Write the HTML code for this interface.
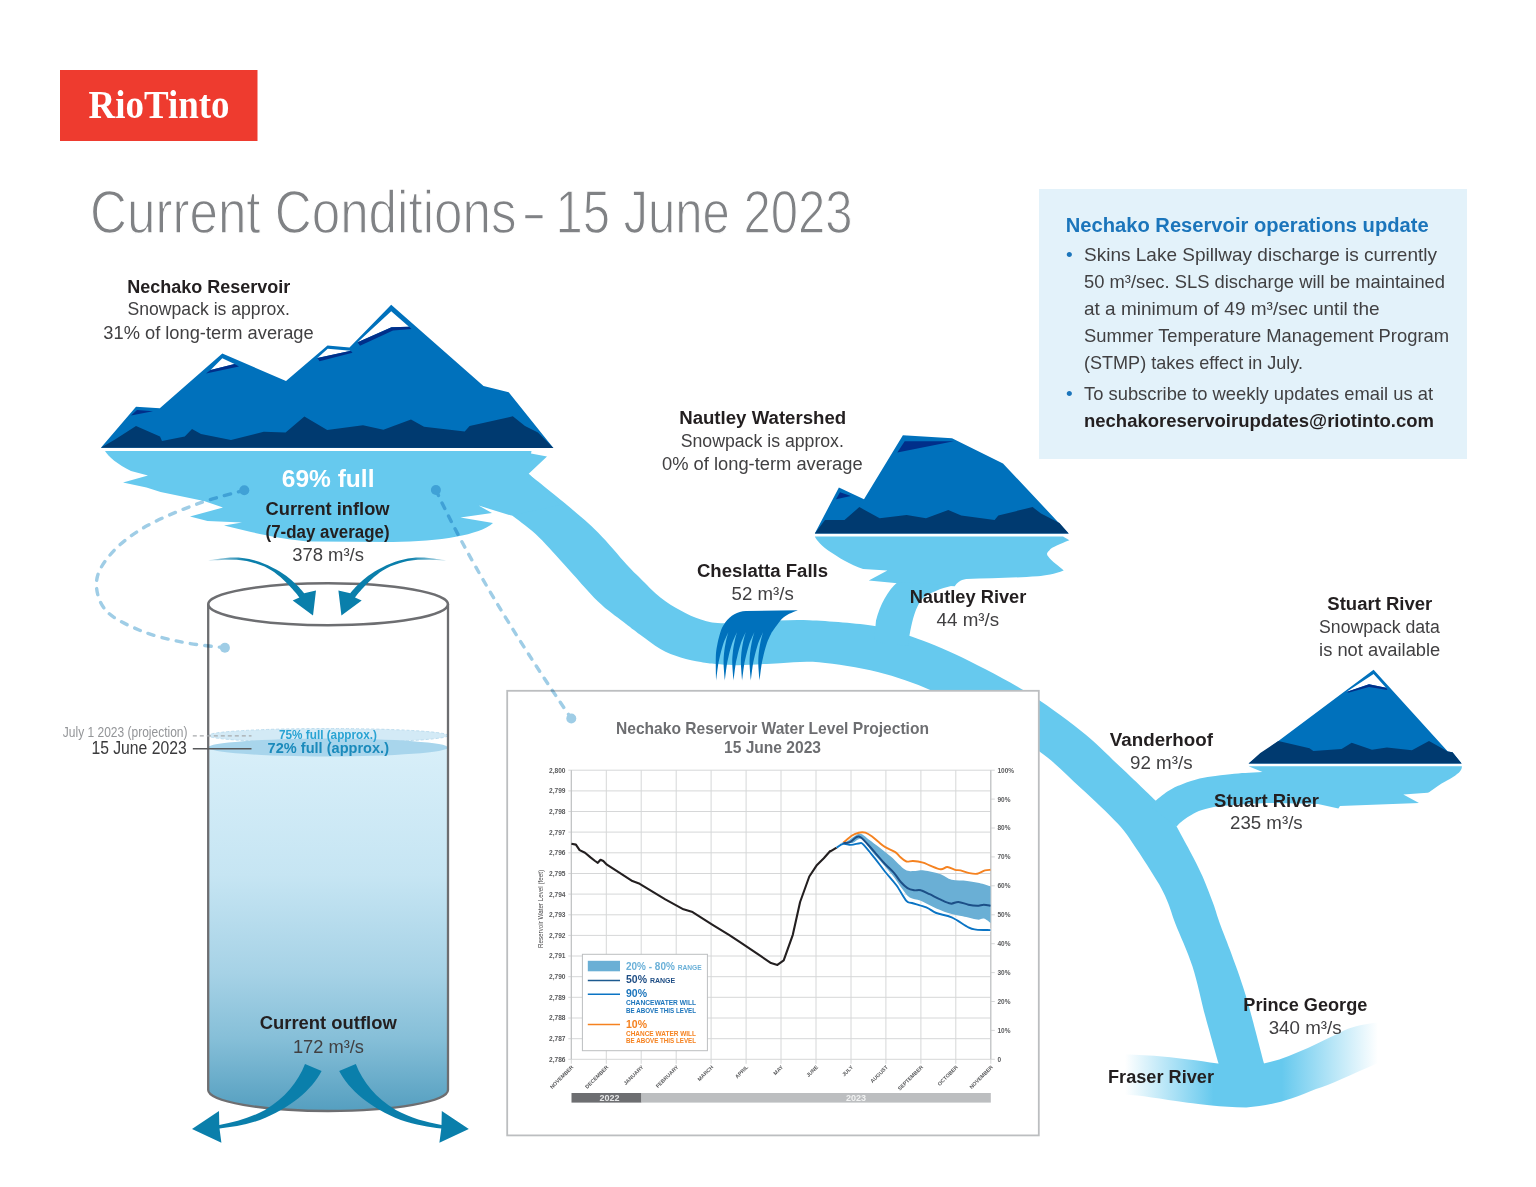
<!DOCTYPE html>
<html><head><meta charset="utf-8">
<style>
html,body{margin:0;padding:0;background:#fff;width:1536px;height:1187px;overflow:hidden}
svg{display:block;font-family:"Liberation Sans",sans-serif}
</style></head><body>
<svg width="1536" height="1187" viewBox="0 0 1536 1187">
<defs>
<linearGradient id="cylg" x1="0" y1="748" x2="0" y2="1111" gradientUnits="userSpaceOnUse">
<stop offset="0" stop-color="#d8eff9"/>
<stop offset="0.35" stop-color="#c6e5f3"/>
<stop offset="0.62" stop-color="#a6d2e6"/>
<stop offset="0.8" stop-color="#86bfd8"/>
<stop offset="1" stop-color="#559fc0"/>
</linearGradient>
<linearGradient id="fraserg" x1="1125" y1="0" x2="1378" y2="0" gradientUnits="userSpaceOnUse">
<stop offset="0" stop-color="#66c9ee" stop-opacity="0"/>
<stop offset="0.35" stop-color="#66c9ee"/>
<stop offset="0.62" stop-color="#66c9ee"/>
<stop offset="1" stop-color="#66c9ee" stop-opacity="0"/>
</linearGradient>
<linearGradient id="fallg" x1="0" y1="660" x2="0" y2="682" gradientUnits="userSpaceOnUse">
<stop offset="0" stop-color="#0071bc"/>
<stop offset="0.82" stop-color="#0071bc"/>
<stop offset="1" stop-color="#0071bc" stop-opacity="0.2"/>
</linearGradient>
</defs>
<rect x="60" y="70" width="197.5" height="71" fill="#ee3b2f"/>
<text x="88.5" y="117.8" font-family="Liberation Serif" font-weight="bold" font-size="40" fill="#fff" textLength="141" lengthAdjust="spacingAndGlyphs">RioTinto</text>
<g font-size="61" fill="#808285" stroke="#fff" stroke-width="1.3"><text x="90" y="232.5" textLength="426.5" lengthAdjust="spacingAndGlyphs">Current Conditions</text><text x="555.5" y="232.5" textLength="297" lengthAdjust="spacingAndGlyphs">15 June 2023</text></g><rect x="525.3" y="215.2" width="17.2" height="3" fill="#808285"/>
<rect x="1039" y="189" width="428" height="270" fill="#e3f2fa"/>
<text x="1065.7" y="232" font-size="20" font-weight="bold" fill="#1b75bb" textLength="363" lengthAdjust="spacingAndGlyphs">Nechako Reservoir operations update</text>
<g font-size="19" fill="#414042">
<text x="1066" y="260.6" fill="#1b75bb">•</text>
<text x="1084" y="260.6" textLength="353" lengthAdjust="spacingAndGlyphs">Skins Lake Spillway discharge is currently</text>
<text x="1084" y="287.5" textLength="361" lengthAdjust="spacingAndGlyphs">50 m³/sec. SLS discharge will be maintained</text>
<text x="1084" y="314.8" textLength="295.5" lengthAdjust="spacingAndGlyphs">at a minimum of 49 m³/sec until the</text>
<text x="1084" y="341.7" textLength="365" lengthAdjust="spacingAndGlyphs">Summer Temperature Management Program</text>
<text x="1084" y="369" textLength="219" lengthAdjust="spacingAndGlyphs">(STMP) takes effect in July.</text>
<text x="1066" y="399.7" fill="#1b75bb">•</text>
<text x="1084" y="399.7" textLength="349" lengthAdjust="spacingAndGlyphs">To subscribe to weekly updates email us at</text>
<text x="1084" y="426.7" font-weight="bold" fill="#231f20" textLength="350" lengthAdjust="spacingAndGlyphs">nechakoreservoirupdates@riotinto.com</text>
</g>
<path d="M528.9,474.3 C535.4,479.5 556.1,495.8 567.6,505.5 C579.1,515.2 588.2,522.7 598.0,532.5 C607.8,542.3 619.6,556.9 626.6,564.5 C633.6,572.1 634.6,572.7 640.2,578.2 C645.8,583.7 653.6,592.0 660.4,597.4 C667.1,602.8 674.0,606.8 680.7,610.5 C687.5,614.2 694.2,617.5 700.9,619.6 C707.6,621.7 711.2,622.9 721.1,623.2 C731.0,623.5 745.4,622.0 760.0,621.5 C774.6,621.0 789.9,619.5 809.0,620.3 C828.1,621.0 858.4,623.5 874.7,626.0 C891.0,628.5 893.5,630.2 907.0,635.0 C920.5,639.8 936.3,645.2 955.8,654.5 C975.3,663.8 1003.2,677.9 1024.0,690.6 C1044.8,703.3 1064.3,717.7 1080.5,730.5 C1096.7,743.3 1108.4,755.8 1121.0,767.6 C1133.6,779.4 1150.4,795.7 1156.3,801.3 L1176.6,826.6 C1178.8,830.6 1185.3,842.4 1189.7,850.7 C1194.1,859.1 1198.8,867.9 1202.7,876.7 C1206.6,885.6 1210.4,895.9 1213.3,903.8 C1216.2,911.7 1217.2,916.2 1220.0,923.9 C1222.8,931.6 1225.7,938.1 1230.0,950.0 C1234.3,961.9 1239.9,976.0 1245.6,995.0 C1251.3,1014.0 1261.1,1052.5 1264.2,1064.0 L1218.7,1064 C1216.5,1056.2 1209.9,1033.3 1205.5,1017.0 C1201.1,1000.7 1197.5,981.9 1192.5,966.4 C1187.5,950.9 1179.5,934.3 1175.5,923.9 C1171.5,913.5 1170.8,909.7 1168.4,903.8 C1166.1,897.9 1164.4,894.0 1161.4,888.5 C1158.5,883.0 1155.0,877.7 1150.7,870.8 C1146.4,863.9 1140.9,855.1 1135.4,847.2 C1129.9,839.3 1126.9,833.5 1117.7,823.6 C1108.5,813.7 1093.7,799.9 1080.5,787.8 C1067.3,775.7 1055.2,762.4 1038.4,750.8 C1021.7,739.2 997.8,728.0 980.0,718.0 C962.2,708.0 948.4,698.3 931.4,690.6 C914.4,682.9 896.4,676.7 877.7,672.0 C859.0,667.3 835.3,663.8 819.0,662.3 C802.7,660.8 793.5,662.7 780.0,663.2 C766.5,663.7 748.6,665.1 737.9,665.2 C727.2,665.4 722.2,664.6 716.0,664.1 C709.8,663.6 706.8,663.2 700.9,662.1 C695.0,661.0 687.5,659.8 680.7,657.6 C674.0,655.4 667.1,652.8 660.4,649.0 C653.6,645.2 646.4,639.3 640.2,634.8 C634.0,630.3 630.2,627.3 623.2,621.8 C616.2,616.2 607.8,611.0 598.0,601.5 C588.2,592.0 574.6,575.7 564.2,564.5 C553.8,553.3 544.3,542.2 535.6,534.1 C526.9,526.0 515.9,518.7 512.0,515.6 Z" fill="#66c9ee"/>
<path d="M105.0,451.0 L531.5,451.0 L531.0,453.5 L547.0,456.4 L528.7,473.7 L560.0,505.0 L511.4,515.6 L478.6,505.6 L492.0,513.0 L460.4,517.5 L493.0,523.0 C480,535 440,541.5 393,542 L313.75,541.6 C290,540.5 265,535 251,532 L224,525.5 L242,522.5 L207.5,521 L190,516.6 L223,507.5 L204,501 L160.6,492 L146.5,487.5 L123,482.5 L148,475.6 L131,471 C118,465 108,456 105,451 Z" fill="#66c9ee"/>
<path d="M814.8,536.4 L1063,536.4 L1069.4,540.3 C1060,544 1052,547 1049.3,550.4 C1046,553 1047,555 1047.9,556.1 C1052,562 1060,567 1063.7,570.4 C1055,574 1045,575.5 1037.9,576.2 C1010,578 990,578.5 966.2,579 C960,580 957,583 954.8,586.2 L897.5,583.3 L868.8,580.5 L887.4,570.4 L863.1,569 C850,565 838,557 830.1,551.8 C822,546 817,541 814.8,536.4 Z" fill="#66c9ee"/>
<path d="M897.5,582.3 C888,590 880,605 876,620.6 L874,642 L908,646 C912,615 918,603 923.3,597.7 C935,590 945,587 954.8,585.2 Z" fill="#66c9ee"/>
<path d="M1248.6,766.3 L1461.9,766.3 C1462,771 1458,775 1441.6,783.4 C1433,789 1430,792 1427.5,792.8 L1403.3,794.4 L1419,803 L1340,806 L1338.4,808.4 L1318,804 C1290,803.5 1270,803 1265.8,803 C1245,804 1230,805 1218.7,806.3 C1205,808.5 1197,811 1191.7,814.8 C1186,818 1180,822 1176.6,826.6 L1150,806 C1165,792 1172,788 1181.6,784.5 C1195,779 1205,777 1215.3,776 C1230,774 1240,773 1249,772.7 L1262.5,772 Z" fill="#66c9ee"/>
<path d="M1125,1054.5 C1150,1055 1175,1057 1218,1063.6 L1263.8,1063.6 C1290,1058 1320,1042 1344,1030.4 C1355,1026 1365,1024 1378,1022.5 L1378,1063 C1350,1075 1330,1085 1316,1089 C1290,1100 1270,1106 1246.25,1107.5 C1220,1107 1200,1104 1187.7,1102.7 C1160,1099 1140,1095 1125,1094.8 Z" fill="url(#fraserg)"/>
<path d="M100.9,447.8 L136,406.7 L159.8,408.3 L222.3,353.6 L286,381 L327.5,345.4 L349.5,347.4 L391.2,304.8 L483.5,386.1 L508.7,392.3 L553.4,448 Z" fill="#0071bc"/>
<path d="M100.9,447.8 L115,439.5 L136,426 L160,436.4 L162,441 L184.8,436.4 L192,429 L201,434 L231,440 L263.75,431.7 L285.6,432.5 L304.4,416.6 L327.2,430 L363,425.2 L383.4,429.8 L411,419.5 L424,426.8 L464.7,431.4 L469.6,426 L512.8,416.3 L525,426 L538,432.5 L553.4,448 Z" fill="#003a70"/>
<path d="M391.2,311.3 L409,326.7 L391.5,327.2 L357.6,342.2 Z" fill="#fff"/>
<path d="M357.6,342.2 L391.5,327.2 L409,326.7 L411.5,329 L393,330.5 L360,345.8 Z" fill="#002f8a"/>
<path d="M327.7,348.7 L350.8,350.8 L317.4,358 Z" fill="#fff"/>
<path d="M317.4,358 L350.8,350.8 L352.5,352.8 L319.5,361.3 Z" fill="#002f8a"/>
<path d="M222.3,358.3 L234.5,364 L210.6,370 Z" fill="#fff"/>
<path d="M206,373.5 L210.6,370 L234.5,364 L239,366.5 Z" fill="#002f8a"/>
<path d="M131,415.5 L137,410 L153,411.3 Z" fill="#002f8a"/>
<path d="M814.8,533.4 L838.9,487.6 L864,499.3 L902.9,435.2 L952,438.2 L1003,463.5 L1068.7,533.4 Z" fill="#0071bc"/>
<path d="M814.8,533.4 L825,520 L844.5,520 L859.3,507.1 L879.7,518.2 L906.6,514.9 L926,518.2 L948.3,509.9 L961.2,515.4 L994.6,520 L998.3,515.4 L1032.6,507.1 L1041,513.6 L1059.5,522.9 L1068.7,533.4 Z" fill="#003a70"/>
<path d="M897.3,452.4 L904.7,441.3 L953.8,441.3 Z" fill="#002f8a"/>
<path d="M836,499.3 L840,492.3 L851,496 Z" fill="#002f8a"/>
<path d="M1248.6,763.4 L1373.6,669.7 L1447.8,751.4 L1452.5,752.2 L1461.6,763.4 Z" fill="#0071bc"/>
<path d="M1248.6,763.4 L1260.3,753 L1278.3,741 L1309.5,748.3 L1313.4,751 L1341.6,749 L1351.7,742.8 L1372,749.8 L1386.9,747.5 L1411.9,750.3 L1429,741 L1447.8,751.4 L1452.5,752.2 L1461.6,763.4 Z" fill="#003a70"/>
<path d="M1373.6,674 L1386,687.8 L1369,684.2 L1346.25,692 Z" fill="#fff"/>
<path d="M1346.25,692 L1369,684.2 L1386,687.8 L1387.5,690 L1369,687 L1349,692.5 Z" fill="#002f8a"/>
<path d="M725,622.7 C731,615 737,611.5 746,611 L797.8,610.2 C795.4,611.4 787.7,613.7 783.4,617.4 C779.1,621.1 773.7,629.8 771.8,632.3 C771.0,634.2 768.2,639.4 766.8,643.6 C765.3,647.8 764.0,653.5 763.1,657.3 C762.2,661.1 761.9,662.5 761.3,666.4 C760.7,670.3 759.8,678.4 759.5,680.8 C759.3,678.0 758.4,668.8 758.3,664.1 C758.2,659.4 758.4,656.5 758.8,652.7 C759.2,648.9 759.9,644.8 760.6,641.4 C761.3,638.0 762.7,633.8 763.1,632.3 C762.3,634.2 759.6,639.4 758.1,643.6 C756.7,647.8 755.3,653.5 754.4,657.3 C753.5,661.1 753.2,662.5 752.6,666.4 C752.0,670.3 751.1,678.4 750.8,680.8 C750.6,678.0 749.7,668.8 749.6,664.1 C749.5,659.4 749.7,656.5 750.1,652.7 C750.5,648.9 751.2,644.8 751.9,641.4 C752.6,638.0 754.0,633.8 754.4,632.3 C753.6,634.2 750.9,639.4 749.4,643.6 C748.0,647.8 746.7,653.5 745.7,657.3 C744.8,661.1 744.5,662.5 743.9,666.4 C743.3,670.3 742.4,678.4 742.1,680.8 C741.9,678.0 741.1,668.8 740.9,664.1 C740.8,659.4 741.1,656.5 741.4,652.7 C741.8,648.9 742.5,644.8 743.2,641.4 C744.0,638.0 745.3,633.8 745.7,632.3 C744.9,634.2 742.2,639.4 740.8,643.6 C739.3,647.8 738.0,653.5 737.1,657.3 C736.1,661.1 735.9,662.5 735.3,666.4 C734.7,670.3 733.8,678.4 733.5,680.8 C733.3,678.0 732.4,668.8 732.3,664.1 C732.1,659.4 732.4,656.5 732.8,652.7 C733.1,648.9 733.8,644.8 734.6,641.4 C735.3,638.0 736.6,633.8 737.1,632.3 C736.2,634.2 733.5,639.4 732.1,643.6 C730.6,647.8 729.3,653.5 728.4,657.3 C727.5,661.1 727.2,662.5 726.6,666.4 C726.0,670.3 725.1,678.4 724.8,680.8 C724.6,678.0 723.7,668.8 723.6,664.1 C723.5,659.4 723.7,656.5 724.1,652.7 C724.5,648.9 725.2,644.8 725.9,641.4 C726.6,638.0 728.0,633.8 728.4,632.3 C727.6,634.2 724.8,639.4 723.4,643.6 C722.0,647.8 720.6,653.5 719.7,657.3 C718.8,661.1 718.5,662.5 717.9,666.4 C717.3,670.3 716.4,678.4 716.1,680.8 C716.0,676.9 715.6,663.5 715.8,657.3 C716.0,651.1 716.6,648.1 717.5,643.6 C718.4,639.1 719.9,633.5 721.1,630.0 C722.4,626.5 724.4,623.9 725.0,622.7 Z" fill="url(#fallg)"/>
<path d="M208.2,748 L448,748 L448,1090 A119.9,21 0 0 1 208.2,1090 Z" fill="url(#cylg)"/>
<ellipse cx="328.1" cy="735.5" rx="119.9" ry="7" fill="#d3eaf6" stroke="#bcdcee" stroke-width="1" stroke-dasharray="3,2"/>
<ellipse cx="328.1" cy="747.5" rx="119.9" ry="9" fill="#a8d5ec"/>
<path d="M208.2,604.25 L208.2,1090 A119.9,21 0 0 0 448,1090 L448,604.25" fill="none" stroke="#6d6e71" stroke-width="2.3"/>
<ellipse cx="328.1" cy="604.25" rx="119.9" ry="21" fill="none" stroke="#6d6e71" stroke-width="2.5"/>
<line x1="192.8" y1="735.9" x2="251.5" y2="735.9" stroke="#a7a9ac" stroke-width="1.3" stroke-dasharray="4,3"/>
<line x1="192.8" y1="748.7" x2="251.5" y2="748.7" stroke="#58595b" stroke-width="1.6"/>
<linearGradient id="arrg" x1="206" y1="0" x2="245" y2="0" gradientUnits="userSpaceOnUse"><stop offset="0" stop-color="#0a7fab" stop-opacity="0.15"/><stop offset="1" stop-color="#0a7fab"/></linearGradient>
<path d="M206.8,560.6 C209.9,560.2 219.5,558.4 225.4,558.0 C231.3,557.6 236.7,557.4 242.3,558.0 C247.9,558.6 253.5,559.9 259.2,561.8 C264.8,563.7 271.2,566.8 276.2,569.5 C281.1,572.2 285.4,575.2 288.9,577.9 C292.4,580.6 294.8,583.0 297.3,585.5 C299.8,588.0 303.0,591.9 304.1,593.2 L316,590.6 L313,615.6 L292.7,600.4 L299.4,597.4 C298.1,595.8 294.6,591.4 291.4,588.0 C288.2,584.6 284.3,580.3 280.4,577.0 C276.4,573.7 272.6,570.7 267.7,568.2 C262.8,565.7 256.4,563.4 250.8,562.0 C245.2,560.6 241.2,560.0 233.9,559.8 C226.6,559.6 211.3,560.5 206.8,560.6 Z" fill="url(#arrg)"/>
<g transform="translate(654.4,0) scale(-1,1)"><path d="M206.8,560.6 C209.9,560.2 219.5,558.4 225.4,558.0 C231.3,557.6 236.7,557.4 242.3,558.0 C247.9,558.6 253.5,559.9 259.2,561.8 C264.8,563.7 271.2,566.8 276.2,569.5 C281.1,572.2 285.4,575.2 288.9,577.9 C292.4,580.6 294.8,583.0 297.3,585.5 C299.8,588.0 303.0,591.9 304.1,593.2 L316,590.6 L313,615.6 L292.7,600.4 L299.4,597.4 C298.1,595.8 294.6,591.4 291.4,588.0 C288.2,584.6 284.3,580.3 280.4,577.0 C276.4,573.7 272.6,570.7 267.7,568.2 C262.8,565.7 256.4,563.4 250.8,562.0 C245.2,560.6 241.2,560.0 233.9,559.8 C226.6,559.6 211.3,560.5 206.8,560.6 Z" fill="url(#arrg)"/></g>
<path d="M305,1064 L321.6,1071 C312,1090 290,1108 260,1120 C245,1125 232,1127 219.5,1128.5 L221.4,1142.7 L192,1129 L219,1111 L219.3,1125 C235,1122 250,1118 265,1110 C285,1098 298,1082 305,1064 Z" fill="#0a7fab"/>
<g transform="translate(660.8,0) scale(-1,1)"><path d="M305,1064 L321.6,1071 C312,1090 290,1108 260,1120 C245,1125 232,1127 219.5,1128.5 L221.4,1142.7 L192,1129 L219,1111 L219.3,1125 C235,1122 250,1118 265,1110 C285,1098 298,1082 305,1064 Z" fill="#0a7fab"/></g>
<rect x="507.2" y="690.8" width="531.6" height="444.6" fill="#fff" stroke="#bcbec0" stroke-width="1.8"/>
<g stroke="#d6d7d8" stroke-width="1"><line x1="568.3" y1="770.2" x2="990.8" y2="770.2"/><line x1="568.3" y1="790.9" x2="990.8" y2="790.9"/><line x1="568.3" y1="811.5" x2="990.8" y2="811.5"/><line x1="568.3" y1="832.1" x2="990.8" y2="832.1"/><line x1="568.3" y1="852.8" x2="990.8" y2="852.8"/><line x1="568.3" y1="873.5" x2="990.8" y2="873.5"/><line x1="568.3" y1="894.1" x2="990.8" y2="894.1"/><line x1="568.3" y1="914.8" x2="990.8" y2="914.8"/><line x1="568.3" y1="935.4" x2="990.8" y2="935.4"/><line x1="568.3" y1="956.0" x2="990.8" y2="956.0"/><line x1="568.3" y1="976.7" x2="990.8" y2="976.7"/><line x1="568.3" y1="997.3" x2="990.8" y2="997.3"/><line x1="568.3" y1="1018.0" x2="990.8" y2="1018.0"/><line x1="568.3" y1="1038.7" x2="990.8" y2="1038.7"/><line x1="568.3" y1="1059.3" x2="990.8" y2="1059.3"/><line x1="571.3" y1="770.2" x2="571.3" y2="1063.8"/><line x1="606.3" y1="770.2" x2="606.3" y2="1063.8"/><line x1="641.2" y1="770.2" x2="641.2" y2="1063.8"/><line x1="676.2" y1="770.2" x2="676.2" y2="1063.8"/><line x1="711.1" y1="770.2" x2="711.1" y2="1063.8"/><line x1="746.1" y1="770.2" x2="746.1" y2="1063.8"/><line x1="781.0" y1="770.2" x2="781.0" y2="1063.8"/><line x1="816.0" y1="770.2" x2="816.0" y2="1063.8"/><line x1="851.0" y1="770.2" x2="851.0" y2="1063.8"/><line x1="885.9" y1="770.2" x2="885.9" y2="1063.8"/><line x1="920.9" y1="770.2" x2="920.9" y2="1063.8"/><line x1="955.8" y1="770.2" x2="955.8" y2="1063.8"/><line x1="990.8" y1="770.2" x2="990.8" y2="1063.8"/><line x1="990.8" y1="770.2" x2="994.8" y2="770.2"/><line x1="990.8" y1="799.1" x2="994.8" y2="799.1"/><line x1="990.8" y1="828.0" x2="994.8" y2="828.0"/><line x1="990.8" y1="856.9" x2="994.8" y2="856.9"/><line x1="990.8" y1="885.8" x2="994.8" y2="885.8"/><line x1="990.8" y1="914.8" x2="994.8" y2="914.8"/><line x1="990.8" y1="943.7" x2="994.8" y2="943.7"/><line x1="990.8" y1="972.6" x2="994.8" y2="972.6"/><line x1="990.8" y1="1001.5" x2="994.8" y2="1001.5"/><line x1="990.8" y1="1030.4" x2="994.8" y2="1030.4"/><line x1="990.8" y1="1059.3" x2="994.8" y2="1059.3"/></g>
<line x1="571.3" y1="770.2" x2="571.3" y2="1059.3" stroke="#bcbec0" stroke-width="1"/>
<line x1="990.8" y1="770.2" x2="990.8" y2="1059.3" stroke="#bcbec0" stroke-width="1"/>
<g font-size="7" fill="#58595b" font-weight="bold"><text x="565.5" y="772.6" text-anchor="end" textLength="16.5" lengthAdjust="spacingAndGlyphs">2,800</text><text x="565.5" y="793.2" text-anchor="end" textLength="16.5" lengthAdjust="spacingAndGlyphs">2,799</text><text x="565.5" y="813.9" text-anchor="end" textLength="16.5" lengthAdjust="spacingAndGlyphs">2,798</text><text x="565.5" y="834.5" text-anchor="end" textLength="16.5" lengthAdjust="spacingAndGlyphs">2,797</text><text x="565.5" y="855.2" text-anchor="end" textLength="16.5" lengthAdjust="spacingAndGlyphs">2,796</text><text x="565.5" y="875.9" text-anchor="end" textLength="16.5" lengthAdjust="spacingAndGlyphs">2,795</text><text x="565.5" y="896.5" text-anchor="end" textLength="16.5" lengthAdjust="spacingAndGlyphs">2,794</text><text x="565.5" y="917.1" text-anchor="end" textLength="16.5" lengthAdjust="spacingAndGlyphs">2,793</text><text x="565.5" y="937.8" text-anchor="end" textLength="16.5" lengthAdjust="spacingAndGlyphs">2,792</text><text x="565.5" y="958.4" text-anchor="end" textLength="16.5" lengthAdjust="spacingAndGlyphs">2,791</text><text x="565.5" y="979.1" text-anchor="end" textLength="16.5" lengthAdjust="spacingAndGlyphs">2,790</text><text x="565.5" y="999.7" text-anchor="end" textLength="16.5" lengthAdjust="spacingAndGlyphs">2,789</text><text x="565.5" y="1020.4" text-anchor="end" textLength="16.5" lengthAdjust="spacingAndGlyphs">2,788</text><text x="565.5" y="1041.1" text-anchor="end" textLength="16.5" lengthAdjust="spacingAndGlyphs">2,787</text><text x="565.5" y="1061.7" text-anchor="end" textLength="16.5" lengthAdjust="spacingAndGlyphs">2,786</text></g>
<g font-size="6.5" fill="#58595b" font-weight="bold"><text x="997.5" y="772.6">100%</text><text x="997.5" y="801.5">90%</text><text x="997.5" y="830.4">80%</text><text x="997.5" y="859.3">70%</text><text x="997.5" y="888.2">60%</text><text x="997.5" y="917.1">50%</text><text x="997.5" y="946.1">40%</text><text x="997.5" y="975.0">30%</text><text x="997.5" y="1003.9">20%</text><text x="997.5" y="1032.8">10%</text><text x="997.5" y="1061.7">0</text></g>
<text transform="translate(542.5,909) rotate(-90)" text-anchor="middle" font-size="7" fill="#414042" textLength="78" lengthAdjust="spacingAndGlyphs">Reservoir Water Level (feet)</text>
<g font-size="5.3" fill="#58595b" font-weight="bold"><text transform="translate(573.8,1067.5) rotate(-45)" text-anchor="end">NOVEMBER</text><text transform="translate(608.8,1067.5) rotate(-45)" text-anchor="end">DECEMBER</text><text transform="translate(643.7,1067.5) rotate(-45)" text-anchor="end">JANUARY</text><text transform="translate(678.7,1067.5) rotate(-45)" text-anchor="end">FEBRUARY</text><text transform="translate(713.6,1067.5) rotate(-45)" text-anchor="end">MARCH</text><text transform="translate(748.6,1067.5) rotate(-45)" text-anchor="end">APRIL</text><text transform="translate(783.5,1067.5) rotate(-45)" text-anchor="end">MAY</text><text transform="translate(818.5,1067.5) rotate(-45)" text-anchor="end">JUNE</text><text transform="translate(853.5,1067.5) rotate(-45)" text-anchor="end">JULY</text><text transform="translate(888.4,1067.5) rotate(-45)" text-anchor="end">AUGUST</text><text transform="translate(923.4,1067.5) rotate(-45)" text-anchor="end">SEPTEMBER</text><text transform="translate(958.3,1067.5) rotate(-45)" text-anchor="end">OCTOBER</text><text transform="translate(993.3,1067.5) rotate(-45)" text-anchor="end">NOVEMBER</text></g>
<rect x="571.5" y="1093" width="70" height="9.6" fill="#6d6e71"/>
<rect x="641.5" y="1093" width="349.3" height="9.6" fill="#bcbec0"/>
<text x="609.5" y="1101.3" text-anchor="middle" font-size="9" font-weight="bold" fill="#e6e7e8">2022</text>
<text x="856" y="1101.3" text-anchor="middle" font-size="9" font-weight="bold" fill="#f1f2f2">2023</text>
<text x="772.5" y="733.9" text-anchor="middle" font-size="17" font-weight="bold" fill="#6d6e71" textLength="313" lengthAdjust="spacingAndGlyphs">Nechako Reservoir Water Level Projection</text>
<text x="772.5" y="753.3" text-anchor="middle" font-size="17" font-weight="bold" fill="#6d6e71" textLength="97" lengthAdjust="spacingAndGlyphs">15 June 2023</text>
<path d="M845.0,843.0 C846.0,842.3 848.5,840.3 851.0,838.8 C853.5,837.3 856.9,833.7 859.9,833.8 C862.9,833.9 865.4,837.1 868.7,839.4 C872.0,841.7 875.9,844.7 879.8,847.7 C883.7,850.7 887.8,853.9 892.0,857.6 C896.2,861.3 901.4,867.6 905.3,869.8 C909.2,872.0 912.1,870.8 915.2,870.9 C918.3,871.0 919.9,869.8 924.1,870.4 C928.4,871.0 936.1,872.6 940.7,874.2 C945.3,875.8 947.3,878.7 951.7,879.8 C956.1,880.9 962.6,880.3 967.2,880.9 C971.8,881.5 975.5,882.2 979.4,883.1 C983.3,884.0 988.6,885.9 990.5,886.4 L990.5,922.9 C989.4,922.2 986.0,919.0 983.8,918.5 C981.6,918.0 980.7,920.0 977.2,919.6 C973.7,919.2 967.0,917.2 962.8,916.3 C958.5,915.4 956.1,915.4 951.7,914.1 C947.3,912.8 941.4,910.7 936.3,908.5 C931.1,906.3 925.2,902.6 920.8,900.8 C916.4,899.0 912.9,899.5 909.7,897.5 C906.6,895.5 904.5,891.9 901.9,888.6 C899.3,885.3 897.3,881.7 894.2,877.6 C891.1,873.5 886.8,868.5 883.1,864.3 C879.4,860.0 875.6,856.4 872.1,852.1 C868.6,847.9 865.4,840.3 862.1,838.8 C858.8,837.3 855.0,842.5 852.1,843.2 C849.2,843.9 846.2,843.0 845.0,843.0 Z" fill="#6aafd5"/>
<path d="M571.4,843.7 L575.9,844.6 L579.6,850.1 L585.0,852.8 L590.5,857.4 L595.1,861.0 L597.8,862.8 L600.5,859.7 L603.3,861.0 L606.9,864.7 L619.7,872.9 L632.4,881.1 L639.7,883.8 L665.3,899.3 L683.5,909.3 L692.6,912.1 L712.6,924.8 L729.0,934.8 L740.0,942.1 L756.4,953.1 L771.0,963.1 L777.4,964.9 L783.7,960.4 L792.8,934.8 L800.1,902.0 L809.3,876.5 L816.5,865.6 L823.8,858.3 L830.2,851.0 L830.0,851.7 L836.6,847.7 L843.3,843.2" fill="none" stroke="#231f20" stroke-width="2.1" stroke-linejoin="round"/>
<path d="M843.3,842.7 C844.8,841.5 849.5,837.2 852.1,835.5 C854.7,833.8 856.6,833.2 858.8,832.7 C861.0,832.2 863.2,832.1 865.4,832.7 C867.6,833.4 869.9,835.0 872.1,836.6 C874.3,838.2 876.5,840.4 878.7,842.1 C880.9,843.9 882.5,845.4 885.3,847.1 C888.1,848.8 892.9,850.5 895.3,852.1 C897.7,853.7 897.9,854.9 899.7,856.5 C901.6,858.1 904.2,860.8 906.4,861.5 C908.6,862.2 910.2,860.8 913.0,861.0 C915.8,861.2 920.2,861.9 923.0,862.6 C925.8,863.3 926.6,864.3 929.6,865.4 C932.6,866.5 937.8,869.0 940.7,869.3 C943.7,869.6 944.9,866.9 947.3,867.0 C949.7,867.1 952.9,869.2 955.1,869.8 C957.3,870.4 958.2,869.8 960.6,870.4 C963.0,871.0 966.7,872.5 969.5,873.1 C972.3,873.7 974.6,874.2 977.2,873.7 C979.8,873.2 982.8,871.0 985.0,870.4 C987.2,869.8 989.6,869.9 990.5,869.8" fill="none" stroke="#f58220" stroke-width="1.9" stroke-linejoin="round"/>
<path d="M836.6,847.7 C837.7,847.1 840.9,844.3 843.3,843.8 C845.7,843.3 848.2,845.0 851.0,844.9 C853.8,844.8 857.9,843.3 859.9,843.2 C861.9,843.1 860.8,841.9 863.2,844.3 C865.6,846.7 870.6,853.0 874.3,857.6 C878.0,862.2 881.6,867.4 885.3,872.0 C889.0,876.6 892.9,880.5 896.4,885.3 C899.9,890.1 903.8,897.8 906.4,900.8 C909.0,903.8 908.6,901.9 911.9,903.0 C915.2,904.1 922.2,905.7 926.3,907.4 C930.4,909.1 932.1,911.3 936.3,913.0 C940.5,914.7 946.4,915.0 951.7,917.4 C957.1,919.8 964.3,925.4 968.4,927.4 C972.5,929.4 972.4,929.1 976.1,929.6 C979.8,930.1 988.1,930.0 990.5,930.1" fill="none" stroke="#fff" stroke-width="3.4" stroke-linejoin="round"/>
<path d="M836.6,847.7 C837.7,847.1 840.9,844.3 843.3,843.8 C845.7,843.3 848.2,845.0 851.0,844.9 C853.8,844.8 857.9,843.3 859.9,843.2 C861.9,843.1 860.8,841.9 863.2,844.3 C865.6,846.7 870.6,853.0 874.3,857.6 C878.0,862.2 881.6,867.4 885.3,872.0 C889.0,876.6 892.9,880.5 896.4,885.3 C899.9,890.1 903.8,897.8 906.4,900.8 C909.0,903.8 908.6,901.9 911.9,903.0 C915.2,904.1 922.2,905.7 926.3,907.4 C930.4,909.1 932.1,911.3 936.3,913.0 C940.5,914.7 946.4,915.0 951.7,917.4 C957.1,919.8 964.3,925.4 968.4,927.4 C972.5,929.4 972.4,929.1 976.1,929.6 C979.8,930.1 988.1,930.0 990.5,930.1" fill="none" stroke="#0b74c4" stroke-width="1.9" stroke-linejoin="round"/>
<path d="M843.3,843.2 C844.4,843.0 847.3,843.2 849.9,842.1 C852.5,841.0 855.8,836.2 858.8,836.6 C861.8,837.0 864.6,841.3 867.6,844.3 C870.6,847.2 873.5,851.0 876.5,854.3 C879.5,857.6 882.3,861.2 885.3,864.3 C888.2,867.4 891.6,870.1 894.2,873.1 C896.8,876.1 898.6,879.5 900.8,882.0 C903.0,884.5 905.3,886.7 907.5,888.1 C909.7,889.5 911.9,889.9 914.1,890.3 C916.3,890.7 918.2,889.6 920.8,890.3 C923.4,890.9 926.3,892.6 929.6,894.2 C932.9,895.8 937.2,898.1 940.7,899.7 C944.2,901.3 947.7,903.2 950.6,903.6 C953.5,904.0 955.4,901.7 958.4,901.9 C961.4,902.1 965.3,904.1 968.4,904.7 C971.5,905.4 974.6,905.8 977.2,905.8 C979.8,905.8 981.6,904.7 983.8,904.7 C986.0,904.7 989.4,905.6 990.5,905.8" fill="none" stroke="#1c4f87" stroke-width="2" stroke-linejoin="round"/>
<rect x="582.4" y="954.3" width="125" height="96.4" fill="#fff" stroke="#bcbec0" stroke-width="1"/>
<rect x="587.8" y="960.8" width="32.2" height="10.5" fill="#6aafd5"/>
<line x1="587.8" y1="980.4" x2="620" y2="980.4" stroke="#1c5a8f" stroke-width="1.5"/>
<line x1="587.8" y1="994.2" x2="620" y2="994.2" stroke="#0b74c4" stroke-width="1.5"/>
<line x1="587.8" y1="1024.6" x2="620" y2="1024.6" stroke="#f58220" stroke-width="1.5"/>
<g font-weight="bold"><text x="626" y="969.6" fill="#6ab0d8" font-size="10.5" textLength="75.7" lengthAdjust="spacingAndGlyphs">20% - 80% <tspan font-size="7">RANGE</tspan></text><text x="626" y="983.1" fill="#1f4e85" font-size="10.5">50% <tspan font-size="7">RANGE</tspan></text><text x="626" y="997.3" fill="#1c75bc" font-size="10.5">90%</text><text x="626" y="1005.4" fill="#1c75bc" font-size="7" textLength="70" lengthAdjust="spacingAndGlyphs">CHANCEWATER WILL</text><text x="626" y="1013.2" fill="#1c75bc" font-size="7" textLength="70" lengthAdjust="spacingAndGlyphs">BE ABOVE THIS LEVEL</text><text x="626" y="1027.6" fill="#f58220" font-size="10.5">10%</text><text x="626" y="1035.7" fill="#f58220" font-size="7" textLength="70" lengthAdjust="spacingAndGlyphs">CHANCE WATER WILL</text><text x="626" y="1043.4" fill="#f58220" font-size="7" textLength="70" lengthAdjust="spacingAndGlyphs">BE ABOVE THIS LEVEL</text></g>
<g style="mix-blend-mode:multiply">
<path d="M244.3,490.2 C236.6,492.4 214.2,497.8 198.0,503.7 C181.8,509.6 161.5,517.7 147.4,525.6 C133.3,533.5 122.1,541.9 113.7,550.9 C105.3,559.9 98.2,569.7 96.8,579.5 C95.4,589.3 98.3,601.4 105.3,609.8 C112.3,618.2 126.4,624.6 139.0,630.0 C151.6,635.4 166.7,638.9 181.0,641.9 C195.3,644.9 217.6,646.8 224.9,647.8" fill="none" stroke="#9fcde6" stroke-width="3.4" stroke-dasharray="6.2,8.3" stroke-linecap="round"/>
<circle cx="244.3" cy="490.2" r="5" fill="#9fcde6"/>
<circle cx="224.9" cy="647.8" r="5" fill="#9fcde6"/>
<path d="M435.9,490 Q480,585 571.3,718.5" fill="none" stroke="#9fcde6" stroke-width="3.4" stroke-dasharray="6.2,8.3" stroke-linecap="round"/>
<circle cx="435.9" cy="490" r="5" fill="#9fcde6"/>
<circle cx="571.3" cy="718.5" r="5" fill="#9fcde6"/>
</g>
<text x="127.2" y="292.7" font-size="18" font-weight="bold" fill="#231f20" textLength="163.1" lengthAdjust="spacingAndGlyphs">Nechako Reservoir</text>
<text x="127.5" y="315.3" font-size="18" font-weight="normal" fill="#414042" textLength="162.5" lengthAdjust="spacingAndGlyphs">Snowpack is approx.</text>
<text x="103.3" y="338.8" font-size="18" font-weight="normal" fill="#414042" textLength="210.4" lengthAdjust="spacingAndGlyphs">31% of long-term average</text>
<text x="281.8" y="486.6" font-size="23.5" font-weight="bold" fill="#fff" textLength="92.7" lengthAdjust="spacingAndGlyphs">69% full</text>
<text x="265.6" y="514.7" font-size="18" font-weight="bold" fill="#231f20" textLength="124.0" lengthAdjust="spacingAndGlyphs">Current inflow</text>
<text x="265.6" y="537.6" font-size="18" font-weight="bold" fill="#231f20" textLength="124.0" lengthAdjust="spacingAndGlyphs">(7-day average)</text>
<text x="292.2" y="561.0" font-size="18" font-weight="normal" fill="#414042" textLength="71.8" lengthAdjust="spacingAndGlyphs">378 m³/s</text>
<text x="679.2" y="424.0" font-size="18" font-weight="bold" fill="#231f20" textLength="167.0" lengthAdjust="spacingAndGlyphs">Nautley Watershed</text>
<text x="680.7" y="447.2" font-size="18" font-weight="normal" fill="#414042" textLength="163.2" lengthAdjust="spacingAndGlyphs">Snowpack is approx.</text>
<text x="662.0" y="470.0" font-size="18" font-weight="normal" fill="#414042" textLength="200.6" lengthAdjust="spacingAndGlyphs">0% of long-term average</text>
<text x="696.9" y="577.0" font-size="18" font-weight="bold" fill="#231f20" textLength="131.2" lengthAdjust="spacingAndGlyphs">Cheslatta Falls</text>
<text x="731.6" y="600.4" font-size="18" font-weight="normal" fill="#414042" textLength="62.1" lengthAdjust="spacingAndGlyphs">52 m³/s</text>
<text x="909.7" y="602.7" font-size="18" font-weight="bold" fill="#231f20" textLength="116.7" lengthAdjust="spacingAndGlyphs">Nautley River</text>
<text x="936.6" y="626.2" font-size="18" font-weight="normal" fill="#414042" textLength="62.6" lengthAdjust="spacingAndGlyphs">44 m³/s</text>
<text x="1327.3" y="609.6" font-size="18" font-weight="bold" fill="#231f20" textLength="105.0" lengthAdjust="spacingAndGlyphs">Stuart River</text>
<text x="1319.1" y="633.0" font-size="18" font-weight="normal" fill="#414042" textLength="120.7" lengthAdjust="spacingAndGlyphs">Snowpack data</text>
<text x="1319.1" y="655.8" font-size="18" font-weight="normal" fill="#414042" textLength="121.2" lengthAdjust="spacingAndGlyphs">is not available</text>
<text x="1109.8" y="746.2" font-size="18" font-weight="bold" fill="#231f20" textLength="103.2" lengthAdjust="spacingAndGlyphs">Vanderhoof</text>
<text x="1130.0" y="769.0" font-size="18" font-weight="normal" fill="#414042" textLength="62.6" lengthAdjust="spacingAndGlyphs">92 m³/s</text>
<text x="1214.1" y="806.5" font-size="18" font-weight="bold" fill="#231f20" textLength="105.0" lengthAdjust="spacingAndGlyphs">Stuart River</text>
<text x="1230.0" y="828.7" font-size="18" font-weight="normal" fill="#414042" textLength="72.7" lengthAdjust="spacingAndGlyphs">235 m³/s</text>
<text x="1243.3" y="1010.9" font-size="18" font-weight="bold" fill="#231f20" textLength="124.0" lengthAdjust="spacingAndGlyphs">Prince George</text>
<text x="1268.7" y="1034.3" font-size="18" font-weight="normal" fill="#414042" textLength="72.9" lengthAdjust="spacingAndGlyphs">340 m³/s</text>
<text x="1108.0" y="1083.1" font-size="18" font-weight="bold" fill="#231f20" textLength="106.0" lengthAdjust="spacingAndGlyphs">Fraser River</text>
<text x="259.7" y="1029.0" font-size="18" font-weight="bold" fill="#231f20" textLength="137.1" lengthAdjust="spacingAndGlyphs">Current outflow</text>
<text x="292.9" y="1052.5" font-size="18" font-weight="normal" fill="#414042" textLength="71.1" lengthAdjust="spacingAndGlyphs">172 m³/s</text>
<text x="62.8" y="736.7" font-size="14.5" font-weight="normal" fill="#939598" textLength="124.7" lengthAdjust="spacingAndGlyphs">July 1 2023 (projection)</text>
<text x="91.4" y="754.0" font-size="18" font-weight="normal" fill="#3a3a3c" textLength="95.3" lengthAdjust="spacingAndGlyphs">15 June 2023</text>
<text x="279.0" y="739.4" font-size="13" font-weight="bold" fill="#29a3d3" textLength="98.0" lengthAdjust="spacingAndGlyphs">75% full (approx.)</text>
<text x="267.6" y="752.7" font-size="15.5" font-weight="bold" fill="#1a8abb" textLength="121.4" lengthAdjust="spacingAndGlyphs">72% full (approx.)</text>
</svg>
</body></html>
